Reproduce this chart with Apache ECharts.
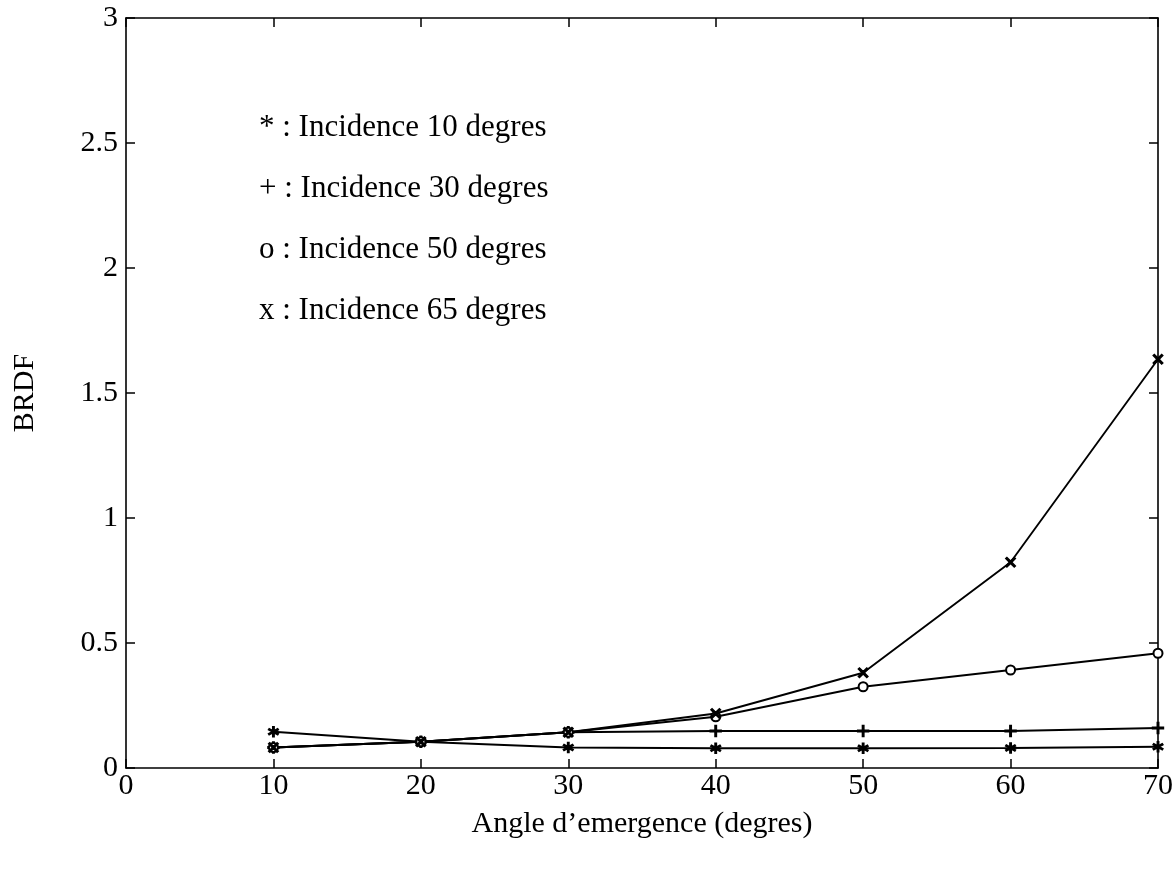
<!DOCTYPE html>
<html>
<head>
<meta charset="utf-8">
<script src="https://cdn.jsdelivr.net/npm/echarts@6/dist/echarts.min.js"></script>
<style>
html,body{margin:0;padding:0;background:#fff;}
#c{width:1176px;height:875px;}
</style>
</head>
<body>
<div id="c"></div>
<script>
// Data
const angles = [10, 20, 30, 40, 50, 60, 70];
const inc10 = [0.145, 0.105, 0.082, 0.079, 0.079, 0.080, 0.085];
const inc30 = [0.082, 0.105, 0.143, 0.148, 0.148, 0.148, 0.160];
const inc50 = [0.082, 0.105, 0.143, 0.205, 0.325, 0.392, 0.459];
const inc65 = [0.082, 0.105, 0.143, 0.218, 0.381, 0.823, 1.635];
const legendLines = [
  '* : Incidence 10 degres',
  '+ : Incidence 30 degres',
  'o : Incidence 50 degres',
  'x : Incidence 65 degres'
];
const xTicks = [0, 10, 20, 30, 40, 50, 60, 70];
const yTicks = [0, 0.5, 1, 1.5, 2, 2.5, 3];

const FONT = '"Liberation Serif", "Times New Roman", serif';
const ASTER = 'path://M4.3,0 H5.7 V10 H4.3 Z M1.02,1.894 L9.68,6.894 L8.98,8.106 L0.32,3.106 Z M8.98,1.894 L0.32,6.894 L1.02,8.106 L9.68,3.106 Z';
const PLUS = 'path://M4.3,0 H5.7 V4.3 H10 V5.7 H5.7 V10 H4.3 V5.7 H0 V4.3 H4.3 Z';

function pairs(arr){ return angles.map((a,i)=>[a, arr[i]]); }

function mkSeries(name, data, symbol, size, rotate){
  return {
    name: name, type: 'line', data: pairs(data),
    symbol: symbol, symbolSize: size, symbolRotate: rotate || 0,
    showSymbol: true,
    lineStyle: {color: '#000', width: 1.9},
    itemStyle: {color: '#000', borderColor: '#000', borderWidth: 1.4},
    emphasis: {disabled: true},
    animation: false, z: 3
  };
}

const chart = echarts.init(document.getElementById('c'), null, {renderer: 'canvas'});
function axisCommon(){
  return {
    axisLine: {show: true, onZero: false, lineStyle: {color: '#000', width: 1.6}},
    axisTick: {show: true, inside: true, length: 9, lineStyle: {color: '#000', width: 1.5}},
    splitLine: {show: false}
  };
}
chart.setOption({
  backgroundColor: '#fff',
  animation: false,
  grid: {left: 126, right: 18, top: 18, bottom: 107, containLabel: false},
  xAxis: [
    Object.assign({
      type: 'value', min: 0, max: 70, interval: 10, position: 'bottom',
      name: 'Angle d\u2019emergence (degres)', nameLocation: 'middle', nameGap: 41,
      nameTextStyle: {fontFamily: FONT, fontSize: 30, color: '#000'},
      axisLabel: {fontFamily: FONT, fontSize: 30, color: '#000', margin: 3,
        formatter: v => xTicks.includes(v) ? String(v) : ''}
    }, axisCommon()),
    Object.assign({
      type: 'value', min: 0, max: 70, interval: 10, position: 'top',
      axisLabel: {show: false}
    }, axisCommon())
  ],
  yAxis: [
    Object.assign({
      type: 'value', min: 0, max: 3, interval: 0.5, position: 'left',
      name: 'BRDF', nameLocation: 'middle', nameGap: 86, nameRotate: 90,
      nameTextStyle: {fontFamily: FONT, fontSize: 30, color: '#000'},
      axisLabel: {fontFamily: FONT, fontSize: 30, color: '#000', margin: 8,
        formatter: v => yTicks.includes(v) ? String(v) : ''}
    }, axisCommon()),
    Object.assign({
      type: 'value', min: 0, max: 3, interval: 0.5, position: 'right',
      axisLabel: {show: false}
    }, axisCommon())
  ],
  graphic: legendLines.map((t, i) => ({
    type: 'text', left: 259, top: 112 + i * 61,
    style: {text: t, font: '31px ' + FONT, fill: '#000'}
  })),
  series: [
    mkSeries('Incidence 10 degres', inc10, ASTER, 10),
    mkSeries('Incidence 30 degres', inc30, PLUS, 11),
    mkSeries('Incidence 50 degres', inc50, 'emptyCircle', 9),
    mkSeries('Incidence 65 degres', inc65, PLUS, 12, 45)
  ]
});
</script>
</body>
</html>
